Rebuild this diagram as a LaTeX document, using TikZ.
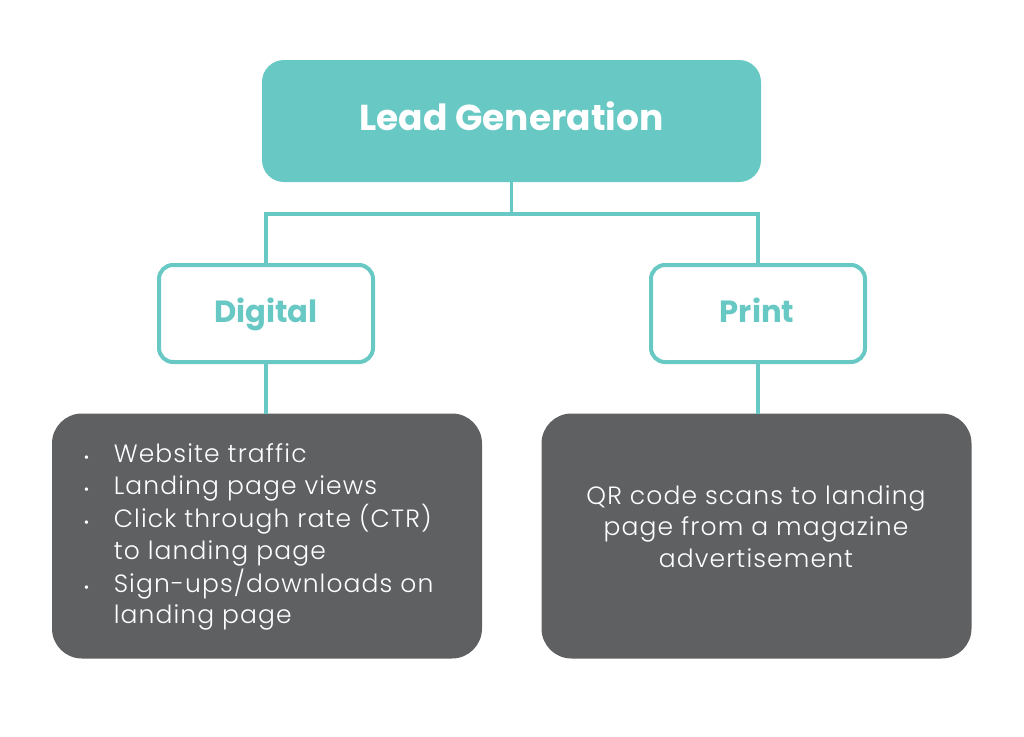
\documentclass[tikz,border=0pt]{standalone}
\usepackage{fontspec}
\setmainfont{Poppins}
\newfontfamily\lightfont{Poppins Light}[LetterSpace=4.5]
\usetikzlibrary{calc}
\definecolor{teal1}{HTML}{68C8C4}
\definecolor{dark1}{HTML}{5F6062}
\tikzset{
  leadbox/.style={fill=teal1, rounded corners=16.5pt, minimum width=374.25pt, minimum height=91.5pt, inner sep=0pt, outer sep=0pt},
  subbox/.style={draw=teal1, line width=3pt, fill=white, rounded corners=10.5pt, minimum width=160.5pt, minimum height=72.75pt, inner sep=0pt, outer sep=0pt},
  darkbox/.style={fill=dark1, rounded corners=22.5pt, minimum width=322.5pt, minimum height=183.75pt, inner sep=0pt, outer sep=0pt},
  conn/.style={draw=teal1, line width=2.6pt},
  leadtxt/.style={text=white, font=\bfseries\fontsize{27}{32}\selectfont, inner sep=0pt},
  subtxt/.style={text=teal1, font=\bfseries\fontsize{23}{28}\selectfont, inner sep=0pt},
  bodytxt/.style={text=white, font=\lightfont\fontsize{18.75}{23.8}\selectfont, inner sep=0pt},
}
\newcommand{\mybul}{{\fontsize{11}{11}\selectfont\textbullet}}
\begin{document}
\begin{tikzpicture}[x=0.75pt,y=-0.75pt]
\useasboundingbox[fill=white] (0,0) rectangle (1024,736);
% boxes
\node[leadbox] (lead) at (511.5,121) {};
\node[subbox] (dig) at (266,313.5) {};
\node[subbox] (pri) at (758,313.5) {};
\node[darkbox] (digd) at (267,536) {};
\node[darkbox] (prid) at (756.5,536) {};
% connectors
\coordinate (j) at (511.5,214);
\draw[conn] (lead.south) -- (j);
\draw[conn] (dig.north) |- (j) -| (pri.north);
\draw[conn] (dig.south) -- (dig.south |- digd.north);
\draw[conn] (pri.south) -- (pri.south |- prid.north);
% texts
\node[leadtxt, anchor=base] (leadt) at (511.5,130) {Lead Generation};
\node[subtxt, anchor=base] (digt) at (266,322) {Digital};
\node[subtxt, anchor=base] (prit) at (757,322) {Print};
\node[bodytxt, anchor=base west] (digl) at (83.5,462.7) {%
\begin{tabular}[t]{@{}l@{\hspace{18.5pt}}l@{}}
\mybul & Website traffic\\
\mybul & Landing page views\\
\mybul & Click through rate (CTR)\\
 & to landing page\\
\mybul & Sign-ups/downloads on\\
 & landing page
\end{tabular}};
\node[bodytxt, anchor=base] (prill) at (756,504) {%
\begin{tabular}[t]{@{}c@{}}
QR code scans to landing\\
page from a magazine\\
advertisement
\end{tabular}};
\end{tikzpicture}
\end{document}
